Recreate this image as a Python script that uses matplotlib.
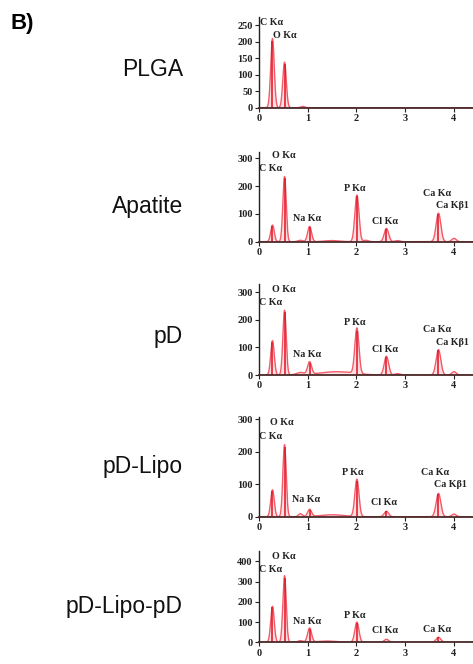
import numpy as np
import matplotlib
matplotlib.use("Agg")
import matplotlib.pyplot as plt

# ---- data ----
samples = ["PLGA", "Apatite", "pD", "pD-Lipo", "pD-Lipo-pD"]

# peaks: (energy keV, height counts, width sigma keV)
peaks_plga = [(0.277, 210, 0.036), (0.525, 138, 0.036), (0.90, 4, 0.04)]
peaks_apatite = [(0.277, 60, 0.036), (0.525, 235, 0.034), (0.85, 5, 0.05), (1.04, 55, 0.04),
                 (1.5, 4, 0.15), (2.013, 168, 0.042), (2.2, 5, 0.05), (2.62, 48, 0.045),
                 (2.85, 4, 0.05), (3.69, 103, 0.048), (4.01, 12, 0.045)]
peaks_pd = [(0.277, 125, 0.036), (0.525, 235, 0.034), (0.85, 8, 0.08), (1.04, 45, 0.04),
            (1.6, 12, 0.35), (2.013, 165, 0.042), (2.62, 68, 0.045), (2.85, 5, 0.05),
            (3.69, 92, 0.048), (4.01, 12, 0.045)]
peaks_pdlipo = [(0.277, 83, 0.036), (0.525, 222, 0.034), (0.85, 9, 0.04), (1.04, 22, 0.04),
                (1.5, 6, 0.25), (2.013, 115, 0.042), (2.62, 17, 0.045), (3.69, 72, 0.048),
                (4.01, 8, 0.045)]
peaks_pdlipopd = [(0.277, 178, 0.036), (0.525, 330, 0.034), (0.85, 8, 0.05), (1.04, 70, 0.04),
                  (1.4, 6, 0.2), (2.013, 100, 0.042), (2.62, 15, 0.045), (3.69, 25, 0.048)]
all_peaks = [peaks_plga, peaks_apatite, peaks_pd, peaks_pdlipo, peaks_pdlipopd]

# peak labels: (text, energy, counts)
labels_plga = [("C Kα", 0.02, 257), ("O Kα", 0.28, 220)]
labels_apatite = [("O Kα", 0.26, 312), ("C Kα", 0.0, 264), ("Na Kα", 0.69, 82), ("P Kα", 1.75, 192),
                  ("Cl Kα", 2.33, 74), ("Ca Kα", 3.37, 174), ("Ca Kβ1", 3.63, 129)]
labels_pd = [("O Kα", 0.26, 310), ("C Kα", 0.0, 262), ("Na Kα", 0.69, 76), ("P Kα", 1.75, 190),
             ("Cl Kα", 2.33, 94), ("Ca Kα", 3.37, 166), ("Ca Kβ1", 3.63, 118)]
labels_pdlipo = [("O Kα", 0.23, 289), ("C Kα", 0.0, 246), ("Na Kα", 0.67, 54), ("P Kα", 1.71, 135),
                 ("Cl Kα", 2.30, 43), ("Ca Kα", 3.33, 135), ("Ca Kβ1", 3.59, 98)]
labels_pdlipopd = [("O Kα", 0.26, 424), ("C Kα", 0.0, 361), ("Na Kα", 0.69, 105), ("P Kα", 1.75, 132),
                   ("Cl Kα", 2.33, 57), ("Ca Kα", 3.37, 64)]
all_labels = [labels_plga, labels_apatite, labels_pd, labels_pdlipo, labels_pdlipopd]

yticks = [[0, 50, 100, 150, 200, 250], [0, 100, 200, 300], [0, 100, 200, 300],
          [0, 100, 200, 300], [0, 100, 200, 300, 400]]
ymax = [275, 324, 330, 308, 452]
xticks = [0, 1, 2, 3, 4]

# ---- layout ----
W, H = 473, 664
fig = plt.figure(figsize=(W / 100, H / 100), dpi=100)
rects = [(0.8378, 0.1366), (0.636, 0.1355), (0.4352, 0.137), (0.2218, 0.1506), (0.0327, 0.1375)]
name_y = [69.5, 207, 337, 466, 606]

energy = np.linspace(0, 4.6, 2000)
red = "#f04050"
for i in range(5):
    b, h = rects[i]
    ax = fig.add_axes([259 / W, b, 1 - 259 / W, h])
    spec = np.zeros_like(energy)
    for e, c, s in all_peaks[i]:
        spec += c * np.exp(-0.5 * ((energy - e) / s) ** 2)
    ax.fill_between(energy, 0, spec, color="#ffe0e3", lw=0)
    ax.plot(energy, spec, color=red, lw=1.0, alpha=0.85)
    for e, c, s in all_peaks[i]:
        if c > 15:
            ax.vlines(e, 0, c * 0.97, color="#e0101e", lw=1.1)
    ax.set_xlim(0, 4.4)
    ax.set_ylim(0, ymax[i])
    ax.set_yticks(yticks[i])
    ax.set_xticks(xticks)
    for sp in ["top", "right"]:
        ax.spines[sp].set_visible(False)
    ax.spines["left"].set_color("#222222")
    ax.spines["bottom"].set_color("#4a2a2a")
    ax.spines["left"].set_linewidth(1.0)
    ax.spines["bottom"].set_linewidth(1.3)
    ax.tick_params(direction="out", length=3, width=0.8, pad=1.5, colors="#222222")
    for lab in ax.get_xticklabels() + ax.get_yticklabels():
        lab.set_fontsize(7.5)
        lab.set_fontweight("bold")
        lab.set_family("Liberation Serif")
    ax.patch.set_alpha(0)
    for t, x, y in all_labels[i]:
        ax.text(x, y, t, fontsize=7.2, fontweight="bold", family="Liberation Serif",
                ha="left", va="center", color="#222222", clip_on=False)
    fig.text(183 / W, 1 - name_y[i] / H, samples[i], fontsize=16.5, family="Liberation Sans",
             ha="right", va="center", color="#111111")

fig.text(10 / W, 1 - 23 / H, "B)", fontsize=16, fontweight="bold", family="Liberation Sans",
         ha="left", va="center")

fig.savefig("out.png", dpi=100)
